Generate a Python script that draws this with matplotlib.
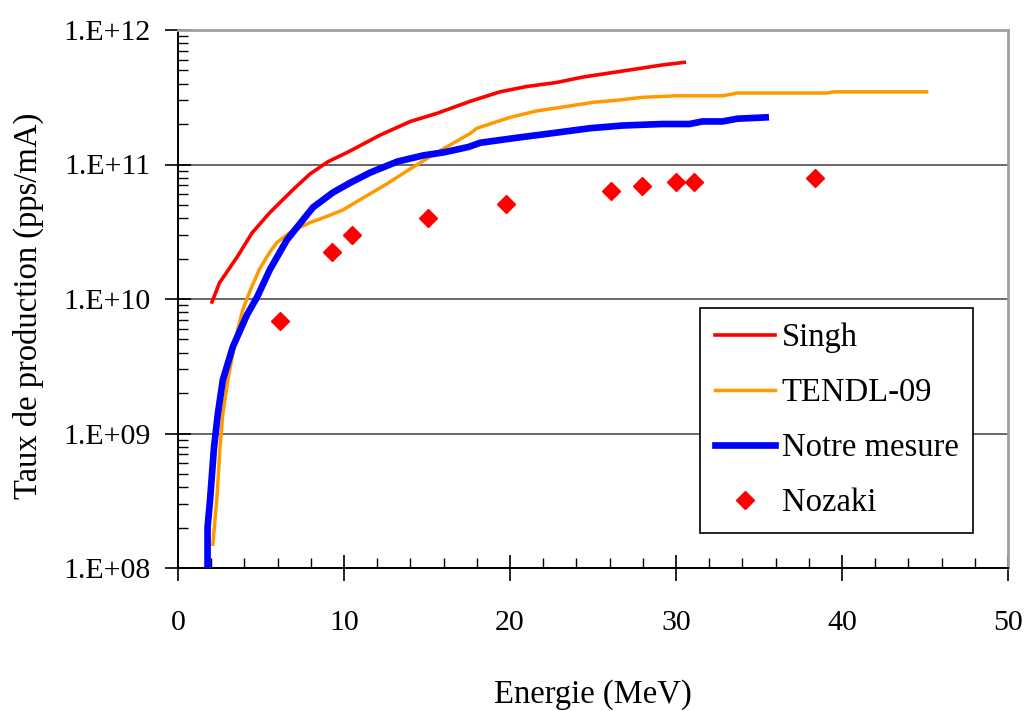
import numpy as np
import matplotlib
matplotlib.use("Agg")
import matplotlib.pyplot as plt
from matplotlib.ticker import FuncFormatter, LogLocator, MultipleLocator, NullFormatter

plt.rcParams['font.family'] = ['Liberation Serif', 'DejaVu Serif']

# Singh
singh_e = [2.05, 2.5, 3.55, 4.46, 5.54, 6.93, 7.95, 9.04, 10.2, 12.2, 14.0, 15.6,
           17.6, 19.4, 21.0, 22.8, 24.4, 26.0, 27.6, 29.2, 30.5]
singh_y = [9.5e9, 1.32e10, 2.04e10, 3.1e10, 4.4e10, 6.5e10, 8.5e10, 1.05e11, 1.23e11,
           1.66e11, 2.09e11, 2.4e11, 2.95e11, 3.47e11, 3.8e11, 4.07e11, 4.47e11,
           4.79e11, 5.13e11, 5.5e11, 5.75e11]

# TENDL-09
tendl_e = [2.1, 2.35, 2.53, 2.7, 3.0, 3.55, 3.9, 4.34, 4.9, 5.54, 5.96, 6.8, 7.95,
           9.16, 9.94, 11.1, 12.6, 14.0, 15.6, 17.6, 18.0, 20.0, 21.6, 23.4, 25.0,
           26.4, 28.0, 30.0, 32.8, 33.7, 39.1, 39.5, 45.1]
tendl_y = [1.5e8, 3.4e8, 7.9e8, 1.4e9, 2.5e9, 5.6e9, 8.3e9, 1.15e10, 1.66e10, 2.24e10,
           2.63e10, 3.16e10, 3.7e10, 4.2e10, 4.6e10, 5.6e10, 7.2e10, 9.3e10, 1.23e11,
           1.7e11, 1.86e11, 2.24e11, 2.5e11, 2.7e11, 2.9e11, 3.0e11, 3.16e11, 3.24e11,
           3.24e11, 3.4e11, 3.4e11, 3.47e11, 3.47e11]

# Notre mesure
mes_e = [1.78, 1.78, 1.93, 2.17, 2.4, 2.7, 3.3, 4.15, 4.76, 5.54, 6.56, 8.13, 9.34,
         10.36, 11.57, 13.2, 14.8, 16.0, 17.5, 18.2, 20.4, 22.4, 24.8, 26.8, 29.2,
         30.8, 31.6, 32.8, 33.7, 35.4]
mes_y = [9e7, 2.0e8, 3.2e8, 7.9e8, 1.4e9, 2.5e9, 4.4e9, 7.6e9, 1.03e10, 1.66e10,
         2.75e10, 4.8e10, 6.2e10, 7.3e10, 8.7e10, 1.05e11, 1.17e11, 1.23e11, 1.35e11,
         1.45e11, 1.58e11, 1.7e11, 1.86e11, 1.95e11, 2.0e11, 2.0e11, 2.09e11, 2.09e11,
         2.19e11, 2.24e11]

# Nozaki
noz_e = [6.14, 9.3, 10.5, 15.06, 19.76, 26.1, 27.95, 30.0, 31.1, 38.4]
noz_y = [6.9e9, 2.24e10, 3.0e10, 4.0e10, 5.1e10, 6.3e10, 6.9e10, 7.4e10, 7.4e10, 7.9e10]

FS = 23.5
FS_TICK = 21.5

fig = plt.figure(figsize=(10.26, 7.11), dpi=100)
ax = fig.add_axes([178 / 1026, 1 - 568 / 711, 830 / 1026, 538 / 711])

ax.plot(singh_e, singh_y, color='#ff0000', lw=2.6, label='Singh', zorder=3)
ax.plot(tendl_e, tendl_y, color='#ff9900', lw=2.5, label='TENDL-09', zorder=3)
ax.plot(mes_e, mes_y, color='#0000ff', lw=4.8, label='Notre mesure', zorder=4)
ax.plot(noz_e, noz_y, ls='none', marker='D', ms=9, color='#ff0000', mec='#ff0000',
        label='Nozaki', zorder=5)

ax.set_yscale('log')
ax.set_xlim(0, 50)
ax.set_ylim(1e8, 1e12)

ax.xaxis.set_major_locator(MultipleLocator(10))
ax.xaxis.set_minor_locator(MultipleLocator(2))
ax.yaxis.set_major_locator(LogLocator(base=10, numticks=10))
ax.yaxis.set_minor_locator(LogLocator(base=10, subs=np.arange(2, 10), numticks=20))
ax.yaxis.set_minor_formatter(NullFormatter())
ax.yaxis.set_major_formatter(FuncFormatter(lambda v, p: "1.E+%02d" % int(round(np.log10(v)))))

ax.tick_params(which='major', direction='inout', length=19, width=1.2, labelsize=FS_TICK)
ax.tick_params(which='minor', direction='in', length=7, width=1.0)
ax.tick_params(axis='x', which='major', pad=21)
ax.tick_params(axis='y', which='major', pad=10)

ax.grid(True, which='major', axis='y', color='#404040', lw=1.1)
ax.set_axisbelow(True)

for s in ['left', 'bottom']:
    ax.spines[s].set_color('black')
    ax.spines[s].set_linewidth(1.4)
for s in ['top', 'right']:
    ax.spines[s].set_color('#a0a0a0')
    ax.spines[s].set_linewidth(2)

leg = ax.legend(loc='upper left', bbox_to_anchor=(0.629, 0.483), fontsize=FS,
                frameon=True, fancybox=False, edgecolor='black', framealpha=1,
                handlelength=1.85, handletextpad=0.2, labelspacing=0.75,
                borderpad=0.45, borderaxespad=0)
leg.get_frame().set_linewidth(1.2)

fig.text(593 / 1026, 1 - 703 / 711, 'Energie (MeV)', ha='center', va='baseline', fontsize=FS)
fig.text(28 / 1026, 1 - 306 / 711, 'Taux de production (pps/mA)', rotation=90,
         ha='center', va='center', fontsize=FS)

fig.savefig('out.png', dpi=100)
